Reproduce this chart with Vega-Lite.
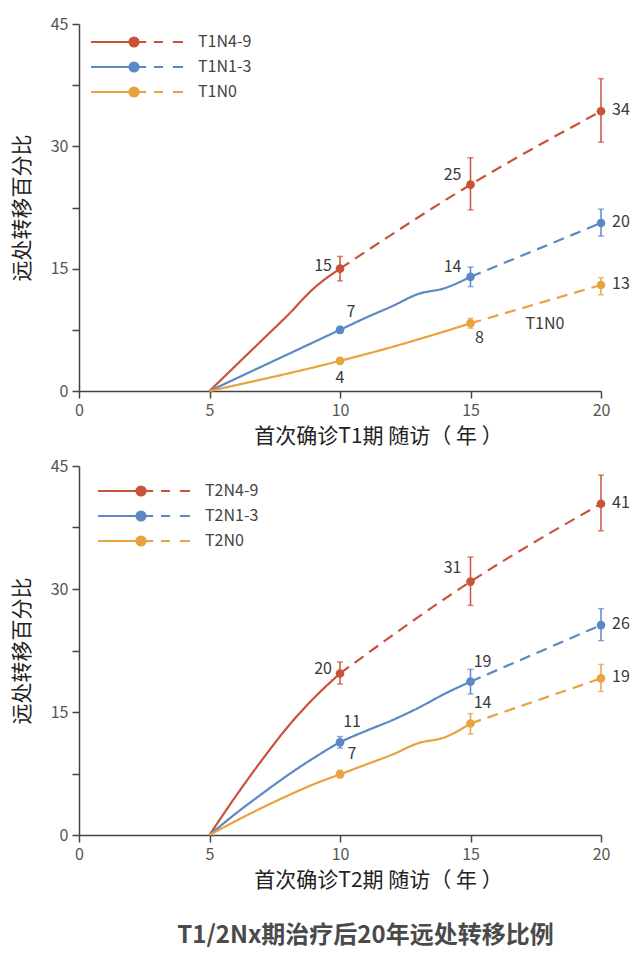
{
  "$schema": "https://vega.github.io/schema/vega-lite/v6.json",
  "padding": {"left": 11, "top": 16, "right": 10, "bottom": 10},
  "background": "white",
  "datasets": {
    "lines": [
      {"panel": "T1", "series": "T1N4-9", "seg": "solid", "x": 5, "y": 0},
      {"panel": "T1", "series": "T1N4-9", "seg": "solid", "x": 6, "y": 3.1},
      {"panel": "T1", "series": "T1N4-9", "seg": "solid", "x": 7, "y": 6.2},
      {"panel": "T1", "series": "T1N4-9", "seg": "solid", "x": 8, "y": 9.3},
      {"panel": "T1", "series": "T1N4-9", "seg": "solid", "x": 9, "y": 12.6},
      {"panel": "T1", "series": "T1N4-9", "seg": "solid", "x": 10, "y": 15.0},
      {"panel": "T1", "series": "T1N4-9", "seg": "dash", "x": 10, "y": 15.0},
      {"panel": "T1", "series": "T1N4-9", "seg": "dash", "x": 15, "y": 25.3},
      {"panel": "T1", "series": "T1N4-9", "seg": "dash", "x": 20, "y": 34.3},
      {"panel": "T1", "series": "T1N1-3", "seg": "solid", "x": 5, "y": 0},
      {"panel": "T1", "series": "T1N1-3", "seg": "solid", "x": 8, "y": 4.5},
      {"panel": "T1", "series": "T1N1-3", "seg": "solid", "x": 10, "y": 7.5},
      {"panel": "T1", "series": "T1N1-3", "seg": "solid", "x": 11, "y": 9.0},
      {"panel": "T1", "series": "T1N1-3", "seg": "solid", "x": 12, "y": 10.4},
      {"panel": "T1", "series": "T1N1-3", "seg": "solid", "x": 13, "y": 11.9},
      {"panel": "T1", "series": "T1N1-3", "seg": "solid", "x": 14, "y": 12.6},
      {"panel": "T1", "series": "T1N1-3", "seg": "solid", "x": 15, "y": 14.0},
      {"panel": "T1", "series": "T1N1-3", "seg": "dash", "x": 15, "y": 14.0},
      {"panel": "T1", "series": "T1N1-3", "seg": "dash", "x": 20, "y": 20.6},
      {"panel": "T1", "series": "T1N0", "seg": "solid", "x": 5, "y": 0},
      {"panel": "T1", "series": "T1N0", "seg": "solid", "x": 10, "y": 3.7},
      {"panel": "T1", "series": "T1N0", "seg": "solid", "x": 12, "y": 5.4},
      {"panel": "T1", "series": "T1N0", "seg": "solid", "x": 14, "y": 7.3},
      {"panel": "T1", "series": "T1N0", "seg": "solid", "x": 15, "y": 8.3},
      {"panel": "T1", "series": "T1N0", "seg": "dash", "x": 15, "y": 8.3},
      {"panel": "T1", "series": "T1N0", "seg": "dash", "x": 20, "y": 13.0},
      {"panel": "T2", "series": "T2N4-9", "seg": "solid", "x": 5, "y": 0},
      {"panel": "T2", "series": "T2N4-9", "seg": "solid", "x": 6, "y": 4.7},
      {"panel": "T2", "series": "T2N4-9", "seg": "solid", "x": 7, "y": 9.1},
      {"panel": "T2", "series": "T2N4-9", "seg": "solid", "x": 8, "y": 13.2},
      {"panel": "T2", "series": "T2N4-9", "seg": "solid", "x": 9, "y": 16.7},
      {"panel": "T2", "series": "T2N4-9", "seg": "solid", "x": 10, "y": 19.7},
      {"panel": "T2", "series": "T2N4-9", "seg": "dash", "x": 10, "y": 19.7},
      {"panel": "T2", "series": "T2N4-9", "seg": "dash", "x": 15, "y": 30.9},
      {"panel": "T2", "series": "T2N4-9", "seg": "dash", "x": 20, "y": 40.4},
      {"panel": "T2", "series": "T2N1-3", "seg": "solid", "x": 5, "y": 0},
      {"panel": "T2", "series": "T2N1-3", "seg": "solid", "x": 6, "y": 2.6},
      {"panel": "T2", "series": "T2N1-3", "seg": "solid", "x": 7, "y": 5.0},
      {"panel": "T2", "series": "T2N1-3", "seg": "solid", "x": 8, "y": 7.3},
      {"panel": "T2", "series": "T2N1-3", "seg": "solid", "x": 9, "y": 9.4},
      {"panel": "T2", "series": "T2N1-3", "seg": "solid", "x": 10, "y": 11.3},
      {"panel": "T2", "series": "T2N1-3", "seg": "solid", "x": 11, "y": 12.7},
      {"panel": "T2", "series": "T2N1-3", "seg": "solid", "x": 12, "y": 14.0},
      {"panel": "T2", "series": "T2N1-3", "seg": "solid", "x": 13, "y": 15.5},
      {"panel": "T2", "series": "T2N1-3", "seg": "solid", "x": 14, "y": 17.2},
      {"panel": "T2", "series": "T2N1-3", "seg": "solid", "x": 15, "y": 18.7},
      {"panel": "T2", "series": "T2N1-3", "seg": "dash", "x": 15, "y": 18.7},
      {"panel": "T2", "series": "T2N1-3", "seg": "dash", "x": 20, "y": 25.6},
      {"panel": "T2", "series": "T2N0", "seg": "solid", "x": 5, "y": 0},
      {"panel": "T2", "series": "T2N0", "seg": "solid", "x": 6, "y": 1.7},
      {"panel": "T2", "series": "T2N0", "seg": "solid", "x": 7, "y": 3.3},
      {"panel": "T2", "series": "T2N0", "seg": "solid", "x": 8, "y": 4.8},
      {"panel": "T2", "series": "T2N0", "seg": "solid", "x": 9, "y": 6.2},
      {"panel": "T2", "series": "T2N0", "seg": "solid", "x": 10, "y": 7.4},
      {"panel": "T2", "series": "T2N0", "seg": "solid", "x": 11, "y": 8.6},
      {"panel": "T2", "series": "T2N0", "seg": "solid", "x": 12, "y": 9.8},
      {"panel": "T2", "series": "T2N0", "seg": "solid", "x": 13, "y": 11.2},
      {"panel": "T2", "series": "T2N0", "seg": "solid", "x": 14, "y": 11.9},
      {"panel": "T2", "series": "T2N0", "seg": "solid", "x": 15, "y": 13.6},
      {"panel": "T2", "series": "T2N0", "seg": "dash", "x": 15, "y": 13.6},
      {"panel": "T2", "series": "T2N0", "seg": "dash", "x": 20, "y": 19.1}
    ],
    "pts": [
      {"panel": "T1", "series": "T1N4-9", "x": 10, "y": 15.0, "lo": 13.5, "hi": 16.5, "label": "15", "pos": "left"},
      {"panel": "T1", "series": "T1N4-9", "x": 15, "y": 25.3, "lo": 22.2, "hi": 28.6, "label": "25", "pos": "upleft"},
      {"panel": "T1", "series": "T1N4-9", "x": 20, "y": 34.3, "lo": 30.5, "hi": 38.3, "label": "34", "pos": "right"},
      {"panel": "T1", "series": "T1N1-3", "x": 10, "y": 7.5, "lo": 7.1, "hi": 7.9, "label": "7", "pos": "upright"},
      {"panel": "T1", "series": "T1N1-3", "x": 15, "y": 14.0, "lo": 12.8, "hi": 15.2, "label": "14", "pos": "upleft"},
      {"panel": "T1", "series": "T1N1-3", "x": 20, "y": 20.6, "lo": 19.0, "hi": 22.3, "label": "20", "pos": "right"},
      {"panel": "T1", "series": "T1N0", "x": 10, "y": 3.7, "lo": 3.4, "hi": 4.0, "label": "4", "pos": "below"},
      {"panel": "T1", "series": "T1N0", "x": 15, "y": 8.3, "lo": 7.7, "hi": 8.9, "label": "8", "pos": "belowright"},
      {"panel": "T1", "series": "T1N0", "x": 20, "y": 13.0, "lo": 11.8, "hi": 13.9, "label": "13", "pos": "right"},
      {"panel": "T2", "series": "T2N4-9", "x": 10, "y": 19.7, "lo": 18.4, "hi": 21.1, "label": "20", "pos": "left"},
      {"panel": "T2", "series": "T2N4-9", "x": 15, "y": 30.9, "lo": 28.0, "hi": 33.9, "label": "31", "pos": "upleft"},
      {"panel": "T2", "series": "T2N4-9", "x": 20, "y": 40.4, "lo": 37.1, "hi": 43.9, "label": "41", "pos": "right"},
      {"panel": "T2", "series": "T2N1-3", "x": 10, "y": 11.3, "lo": 10.6, "hi": 12.0, "label": "11", "pos": "upright"},
      {"panel": "T2", "series": "T2N1-3", "x": 15, "y": 18.7, "lo": 17.2, "hi": 20.2, "label": "19", "pos": "upright"},
      {"panel": "T2", "series": "T2N1-3", "x": 20, "y": 25.6, "lo": 23.7, "hi": 27.6, "label": "26", "pos": "right"},
      {"panel": "T2", "series": "T2N0", "x": 10, "y": 7.4, "lo": 7.0, "hi": 7.9, "label": "7", "pos": "upright"},
      {"panel": "T2", "series": "T2N0", "x": 15, "y": 13.6, "lo": 12.3, "hi": 14.8, "label": "14", "pos": "upright"},
      {"panel": "T2", "series": "T2N0", "x": 20, "y": 19.1, "lo": 17.5, "hi": 20.8, "label": "19", "pos": "right"}
    ],
    "notes": [
      {"panel": "T1", "x": 17.85, "y": 8.2, "text": "T1N0"}
    ]
  },
  "vconcat": [
    {
      "width": 522,
      "height": 367,
      "layer": [
        {
          "data": {"name": "lines"},
          "transform": [{"filter": "datum.panel == 'T1'"}],
          "mark": {"type": "line", "interpolate": "monotone", "strokeWidth": 2.2},
          "encoding": {
            "x": {"field": "x", "type": "quantitative", "scale": {"domain": [0, 20], "nice": false},
                  "axis": {"values": [0, 5, 10, 15, 20], "title": "首次确诊T1期  随访（ 年 ）", "titleX": 299}},
            "y": {"field": "y", "type": "quantitative", "scale": {"domain": [0, 45], "nice": false},
                  "axis": {"values": [0, 7.5, 15, 22.5, 30, 37.5, 45], "labelExpr": "datum.value % 15 == 0 ? datum.label : ''", "title": "远处转移百分比"}},
            "color": {"field": "series", "type": "nominal",
                      "scale": {"domain": ["T1N4-9", "T1N1-3", "T1N0"], "range": ["#c9533a", "#5b89c6", "#e8a23e"]},
                      "legend": {"orient": "none", "legendX": 11, "legendY": 10,
                                 "encode": {"symbols": {"update": {"fill": {"scale": "concat_0_color", "field": "value"}, "stroke": {"scale": "concat_0_color", "field": "value"}, "opacity": {"value": 1}}}}}},
            "strokeDash": {"field": "seg", "type": "nominal", "scale": {"domain": ["solid", "dash"], "range": [[1, 0], [11, 7]]}, "legend": null},
            "detail": {"field": "series"},
            "order": {"field": "x"}
          }
        },
        {
          "data": {"name": "pts"},
          "transform": [{"filter": "datum.panel == 'T1'"}],
          "layer": [
            {"mark": {"type": "rule", "strokeWidth": 1.5},
             "encoding": {"x": {"field": "x", "type": "quantitative"}, "y": {"field": "lo", "type": "quantitative"}, "y2": {"field": "hi"}, "color": {"field": "series", "type": "nominal"}}},
            {"mark": {"type": "tick", "orient": "horizontal", "size": 6, "thickness": 1.5},
             "encoding": {"x": {"field": "x", "type": "quantitative"}, "y": {"field": "lo", "type": "quantitative"}, "color": {"field": "series", "type": "nominal"}}},
            {"mark": {"type": "tick", "orient": "horizontal", "size": 6, "thickness": 1.5},
             "encoding": {"x": {"field": "x", "type": "quantitative"}, "y": {"field": "hi", "type": "quantitative"}, "color": {"field": "series", "type": "nominal"}}},
            {"mark": {"type": "point", "filled": true, "size": 75, "opacity": 1},
             "encoding": {"x": {"field": "x", "type": "quantitative"}, "y": {"field": "y", "type": "quantitative"}, "color": {"field": "series", "type": "nominal"}}},
            {"transform": [{"filter": "datum.pos == 'left'"}], "mark": {"type": "text", "align": "right", "dx": -8, "dy": -3},
             "encoding": {"x": {"field": "x", "type": "quantitative"}, "y": {"field": "y", "type": "quantitative"}, "text": {"field": "label"}}},
            {"transform": [{"filter": "datum.pos == 'right'"}], "mark": {"type": "text", "align": "left", "dx": 11, "dy": -1},
             "encoding": {"x": {"field": "x", "type": "quantitative"}, "y": {"field": "y", "type": "quantitative"}, "text": {"field": "label"}}},
            {"transform": [{"filter": "datum.pos == 'upleft'"}], "mark": {"type": "text", "align": "center", "dx": -18, "dy": -10},
             "encoding": {"x": {"field": "x", "type": "quantitative"}, "y": {"field": "y", "type": "quantitative"}, "text": {"field": "label"}}},
            {"transform": [{"filter": "datum.pos == 'upright'"}], "mark": {"type": "text", "align": "center", "dx": 11, "dy": -18},
             "encoding": {"x": {"field": "x", "type": "quantitative"}, "y": {"field": "y", "type": "quantitative"}, "text": {"field": "label"}}},
            {"transform": [{"filter": "datum.pos == 'below'"}], "mark": {"type": "text", "align": "center", "dy": 17},
             "encoding": {"x": {"field": "x", "type": "quantitative"}, "y": {"field": "y", "type": "quantitative"}, "text": {"field": "label"}}},
            {"transform": [{"filter": "datum.pos == 'belowright'"}], "mark": {"type": "text", "align": "center", "dx": 9, "dy": 15},
             "encoding": {"x": {"field": "x", "type": "quantitative"}, "y": {"field": "y", "type": "quantitative"}, "text": {"field": "label"}}}
          ]
        },
        {
          "data": {"name": "notes"},
          "transform": [{"filter": "datum.panel == 'T1'"}],
          "mark": {"type": "text", "align": "center"},
          "encoding": {"x": {"field": "x", "type": "quantitative"}, "y": {"field": "y", "type": "quantitative"}, "text": {"field": "text"}}
        }
      ]
    },
    {
      "width": 522,
      "height": 369,
      "layer": [
        {
          "data": {"name": "lines"},
          "transform": [{"filter": "datum.panel == 'T2'"}],
          "mark": {"type": "line", "interpolate": "monotone", "strokeWidth": 2.2},
          "encoding": {
            "x": {"field": "x", "type": "quantitative", "scale": {"domain": [0, 20], "nice": false},
                  "axis": {"values": [0, 5, 10, 15, 20], "title": "首次确诊T2期  随访（ 年 ）", "titleX": 299}},
            "y": {"field": "y", "type": "quantitative", "scale": {"domain": [0, 45], "nice": false},
                  "axis": {"values": [0, 7.5, 15, 22.5, 30, 37.5, 45], "labelExpr": "datum.value % 15 == 0 ? datum.label : ''", "title": "远处转移百分比"}},
            "color": {"field": "series", "type": "nominal",
                      "scale": {"domain": ["T2N4-9", "T2N1-3", "T2N0"], "range": ["#c9533a", "#5b89c6", "#e8a23e"]},
                      "legend": {"orient": "none", "legendX": 18, "legendY": 17,
                                 "encode": {"symbols": {"update": {"fill": {"scale": "concat_1_color", "field": "value"}, "stroke": {"scale": "concat_1_color", "field": "value"}, "opacity": {"value": 1}}}}}},
            "strokeDash": {"field": "seg", "type": "nominal", "scale": {"domain": ["solid", "dash"], "range": [[1, 0], [11, 7]]}, "legend": null},
            "detail": {"field": "series"},
            "order": {"field": "x"}
          }
        },
        {
          "data": {"name": "pts"},
          "transform": [{"filter": "datum.panel == 'T2'"}],
          "layer": [
            {"mark": {"type": "rule", "strokeWidth": 1.5},
             "encoding": {"x": {"field": "x", "type": "quantitative"}, "y": {"field": "lo", "type": "quantitative"}, "y2": {"field": "hi"}, "color": {"field": "series", "type": "nominal"}}},
            {"mark": {"type": "tick", "orient": "horizontal", "size": 6, "thickness": 1.5},
             "encoding": {"x": {"field": "x", "type": "quantitative"}, "y": {"field": "lo", "type": "quantitative"}, "color": {"field": "series", "type": "nominal"}}},
            {"mark": {"type": "tick", "orient": "horizontal", "size": 6, "thickness": 1.5},
             "encoding": {"x": {"field": "x", "type": "quantitative"}, "y": {"field": "hi", "type": "quantitative"}, "color": {"field": "series", "type": "nominal"}}},
            {"mark": {"type": "point", "filled": true, "size": 75, "opacity": 1},
             "encoding": {"x": {"field": "x", "type": "quantitative"}, "y": {"field": "y", "type": "quantitative"}, "color": {"field": "series", "type": "nominal"}}},
            {"transform": [{"filter": "datum.pos == 'left'"}], "mark": {"type": "text", "align": "right", "dx": -8, "dy": -4},
             "encoding": {"x": {"field": "x", "type": "quantitative"}, "y": {"field": "y", "type": "quantitative"}, "text": {"field": "label"}}},
            {"transform": [{"filter": "datum.pos == 'right'"}], "mark": {"type": "text", "align": "left", "dx": 11, "dy": -1},
             "encoding": {"x": {"field": "x", "type": "quantitative"}, "y": {"field": "y", "type": "quantitative"}, "text": {"field": "label"}}},
            {"transform": [{"filter": "datum.pos == 'upleft'"}], "mark": {"type": "text", "align": "center", "dx": -18, "dy": -14},
             "encoding": {"x": {"field": "x", "type": "quantitative"}, "y": {"field": "y", "type": "quantitative"}, "text": {"field": "label"}}},
            {"transform": [{"filter": "datum.pos == 'upright'"}], "mark": {"type": "text", "align": "center", "dx": 12, "dy": -20},
             "encoding": {"x": {"field": "x", "type": "quantitative"}, "y": {"field": "y", "type": "quantitative"}, "text": {"field": "label"}}}
          ]
        }
      ]
    }
  ],
  "spacing": 12,
  "resolve": {"scale": {"color": "independent"}},
  "title": {"text": "T1/2Nx期治疗后20年远处转移比例", "orient": "bottom", "anchor": "middle", "dx": 45, "fontSize": 24, "fontWeight": "bold", "color": "#4a4a4a", "font": "Noto Sans CJK SC", "offset": 34},
  "config": {
    "font": "Noto Sans CJK SC",
    "view": {"stroke": null},
    "text": {"fontSize": 16, "color": "#3a3a3a", "font": "Noto Sans CJK SC"},
    "axis": {"grid": false, "domainColor": "#444", "domainWidth": 1.5, "tickColor": "#444", "tickWidth": 1.5, "tickSize": 7,
             "labelFontSize": 16, "labelColor": "#555", "labelFont": "Noto Sans CJK SC", "labelPadding": 4,
             "titleFontSize": 21, "titleFontWeight": "normal", "titleColor": "#222", "titleFont": "Noto Sans CJK SC"},
    "axisX": {"titlePadding": 7, "labelFlush": false},
    "axisY": {"titlePadding": 18},
    "legend": {"title": null, "padding": 0, "symbolType": "M-1,0H0.2M0.37,0H0.565M0.78,0H1M0.035,0A0.1,0.1,0,1,1,-0.165,0A0.1,0.1,0,1,1,0.035,0Z",
               "symbolSize": 8464, "symbolStrokeWidth": 2, "clipHeight": 16, "rowPadding": 9,
               "labelFontSize": 16, "labelColor": "#444", "labelFont": "Noto Sans CJK SC", "labelOffset": 14}
  }
}
